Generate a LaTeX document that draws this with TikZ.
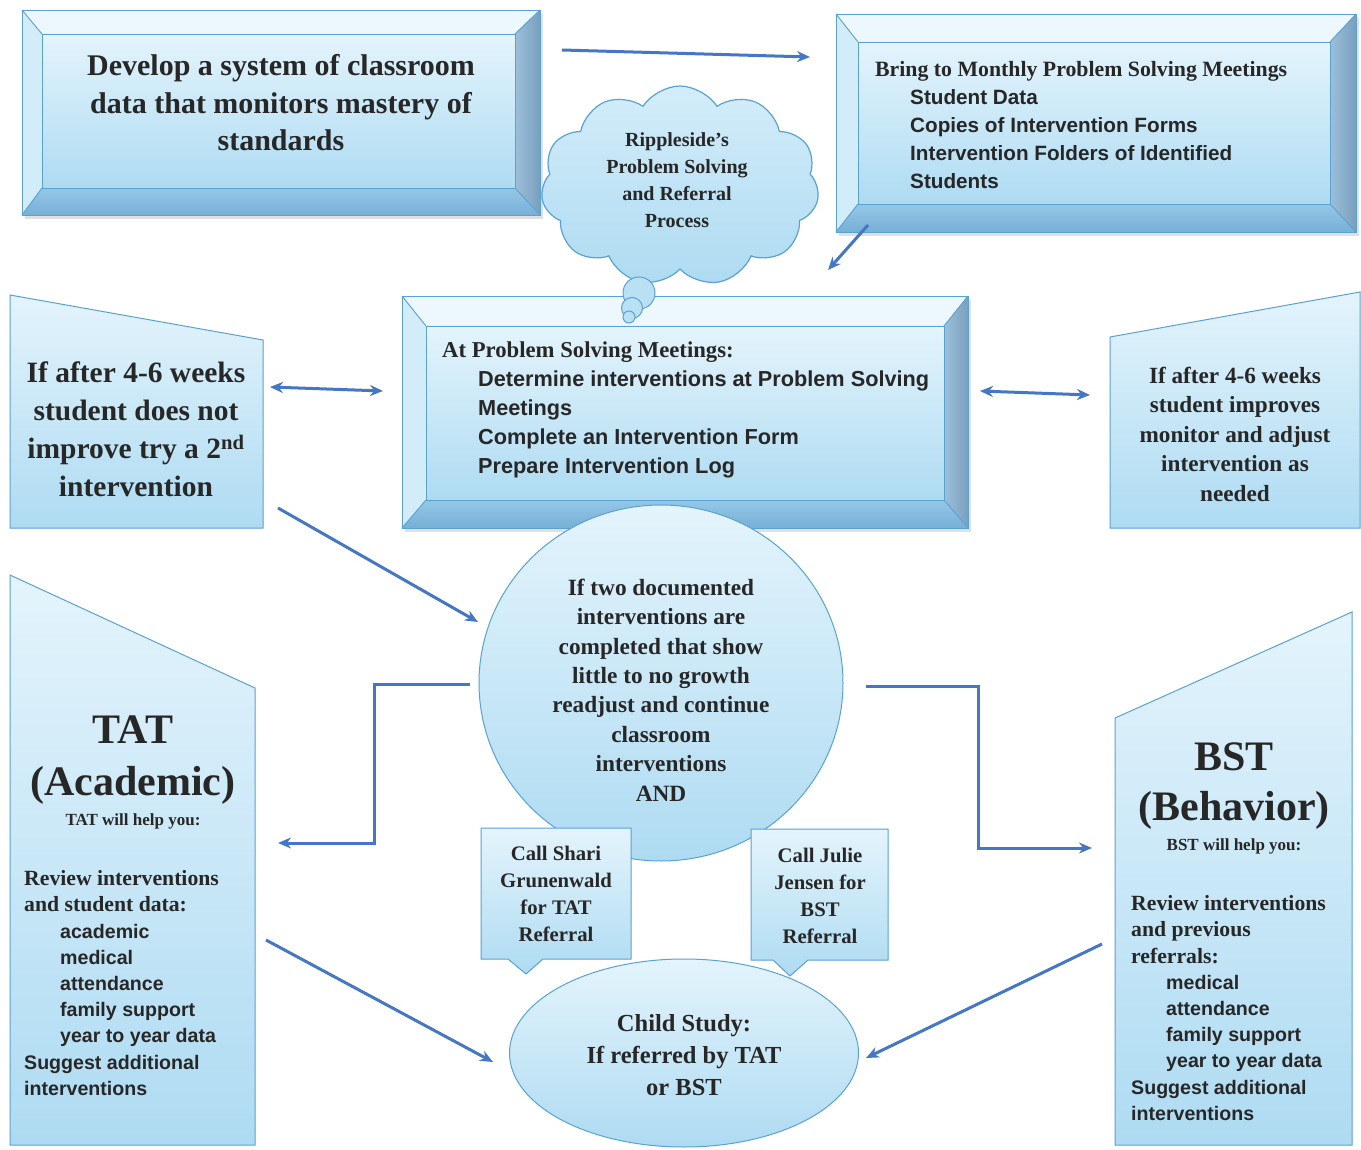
\documentclass[tikz,border=0pt]{standalone}
\usepackage{fontspec}
\setmainfont{Liberation Serif}
\setsansfont{Liberation Sans}
\usetikzlibrary{shapes.symbols,shapes.geometric,calc,arrows.meta,fit}
\definecolor{edge}{HTML}{5AA2D2}
\definecolor{fillA}{HTML}{E4F4FC}
\definecolor{fillB}{HTML}{AEDBF2}
\definecolor{bevTop}{HTML}{EDF8FE}
\definecolor{bevLeft}{HTML}{D2ECFA}
\definecolor{bevRightA}{HTML}{9CC0DA}
\definecolor{bevRightB}{HTML}{7A9FBD}
\definecolor{bevBotA}{HTML}{94C8E8}
\definecolor{bevBotB}{HTML}{78AFD6}
\definecolor{arrowc}{HTML}{4677C5}
\definecolor{txt}{HTML}{272727}
\newcommand{\bevelbox}[9]{%
  \fill[black!12] (#2+3,#3+4) rectangle (#4+3,#5+4);
  \fill[bevTop] (#2,#3) -- (#4,#3) -- (#4-#8,#3+#7) -- (#2+#6,#3+#7) -- cycle;
  \fill[bevLeft] (#2,#3) -- (#2+#6,#3+#7) -- (#2+#6,#5-#9) -- (#2,#5) -- cycle;
  \shade[left color=bevRightA, right color=bevRightB] (#4,#3) -- (#4,#5) -- (#4-#8,#5-#9) -- (#4-#8,#3+#7) -- cycle;
  \shade[top color=bevBotA, bottom color=bevBotB] (#2,#5) -- (#2+#6,#5-#9) -- (#4-#8,#5-#9) -- (#4,#5) -- cycle;
  \shade[top color=fillA, bottom color=fillB] (#2+#6,#3+#7) rectangle (#4-#8,#5-#9);
  \draw[edge, line width=0.9pt] (#2,#3) rectangle (#4,#5);
  \draw[edge, line width=0.9pt] (#2+#6,#3+#7) rectangle (#4-#8,#5-#9);
  \draw[edge, line width=0.9pt] (#2,#3) -- (#2+#6,#3+#7) (#4,#3) -- (#4-#8,#3+#7) (#4,#5) -- (#4-#8,#5-#9) (#2,#5) -- (#2+#6,#5-#9);
  \node[fit={(#2,#3)(#4,#5)}, inner sep=0pt] (#1) {};
}
\tikzset{
  x=1pt, y=-1pt,
  arr/.style={draw=arrowc, line width=3pt, -{Stealth[length=13pt,width=11pt]}},
  darr/.style={draw=arrowc, line width=3pt, {Stealth[length=13pt,width=11pt]}-{Stealth[length=13pt,width=11pt]}},
  panel/.style={draw=edge, line width=1pt, top color=fillA, bottom color=fillB},
  lbl/.style={text=txt, inner sep=0pt},
}
\begin{document}
\begin{tikzpicture}
\useasboundingbox (0,0) rectangle (1361,1150);
\fill[white] (0,0) rectangle (1361,1150);

% ---------- top-left bevel box ----------
\bevelbox{b1}{22}{10}{540}{215}{20}{24}{25}{27}
\node[lbl, align=center, font=\fontsize{30}{37.5}\selectfont\bfseries] (b1t) at (281,103) {Develop a system of classroom\\data that monitors mastery of\\standards};

% ---------- top-right bevel box ----------
\bevelbox{b2}{836}{14}{1356}{232}{22}{28}{26}{28}
\node[lbl, align=left, anchor=west, font=\fontsize{21.8}{27.8}\selectfont] (b2t) at (875,125)
 {\bfseries Bring to Monthly Problem Solving Meetings\\
  \hspace*{35pt}\fontsize{20.7}{27.8}\selectfont\sffamily\bfseries Student Data\\
  \hspace*{35pt}\fontsize{20.7}{27.8}\selectfont\sffamily\bfseries Copies of Intervention Forms\\
  \hspace*{35pt}\fontsize{20.7}{27.8}\selectfont\sffamily\bfseries Intervention Folders of Identified\\
  \hspace*{35pt}\fontsize{20.7}{27.8}\selectfont\sffamily\bfseries Students};

% ---------- middle bevel box ----------
\bevelbox{b3}{402}{296}{968}{528}{24}{30}{24}{28}
\node[lbl, align=left, anchor=west, font=\fontsize{22.7}{29}\selectfont] (b3t) at (442,410)
 {\bfseries At Problem Solving Meetings:\\
  \hspace*{36pt}\fontsize{21.7}{29}\selectfont\sffamily\bfseries Determine interventions at Problem Solving\\
  \hspace*{36pt}\fontsize{21.7}{29}\selectfont\sffamily\bfseries Meetings\\
  \hspace*{36pt}\fontsize{21.7}{29}\selectfont\sffamily\bfseries Complete an Intervention Form\\
  \hspace*{36pt}\fontsize{21.7}{29}\selectfont\sffamily\bfseries Prepare Intervention Log};

% ---------- cloud ----------
\node[cloud, cloud puffs=11, cloud puff arc=115, aspect=1.35, draw=edge, line width=1.2pt,
      top color=fillA!70!fillB, bottom color=fillB, minimum width=278, minimum height=200, inner sep=0pt]
      (cloud) at (680,186) {};
\node[circle, draw=edge, line width=1pt, fill=fillB!85!white, minimum size=32, inner sep=0pt] (bub1) at (639,293) {};
\node[circle, draw=edge, line width=1pt, fill=fillB!85!white, minimum size=21, inner sep=0pt] (bub2) at (632,308) {};
\node[circle, draw=edge, line width=1pt, fill=fillB!85!white, minimum size=12, inner sep=0pt] (bub3) at (629,317) {};
\node[lbl, align=center, font=\fontsize{20}{27}\selectfont\bfseries] (cloudt) at (677,180)
 {Rippleside's\\Problem Solving\\and Referral\\Process};

% ---------- side trapezoids ----------
\path[panel] (10,295) -- (263,340) -- (263,528) -- (10,528) -- cycle;
\node[lbl, align=center, font=\fontsize{29.5}{38}\selectfont\bfseries] (lt) at (136,429)
 {If after 4-6 weeks\\student does not\\improve try a 2\textsuperscript{nd}\\intervention};

\path[panel] (1110,337) -- (1360,292) -- (1360,528) -- (1110,528) -- cycle;
\node[lbl, align=center, font=\fontsize{23.2}{29.5}\selectfont\bfseries] (rt) at (1235,434)
 {If after 4-6 weeks\\student improves\\monitor and adjust\\intervention as\\needed};

% ---------- TAT panel ----------
\path[panel] (10,575) -- (255,688) -- (255,1145) -- (10,1145) -- cycle;
\node[lbl, font=\fontsize{42}{44}\selectfont\bfseries] (tat1) at (133,730) {TAT};
\node[lbl, font=\fontsize{42}{44}\selectfont\bfseries] (tat2) at (133,785) {(Academic)};
\node[lbl, font=\fontsize{17}{18}\selectfont\bfseries] (tat3) at (133,821) {TAT will help you:};
\node[lbl, align=left, anchor=west, font=\fontsize{21.7}{26.2}\selectfont] (tat4) at (24,983)
 {\bfseries Review interventions\\
  \bfseries and student data:\\
  \hspace*{36pt}\fontsize{19.6}{26.2}\selectfont\sffamily\bfseries academic\\
  \hspace*{36pt}\fontsize{19.6}{26.2}\selectfont\sffamily\bfseries medical\\
  \hspace*{36pt}\fontsize{19.6}{26.2}\selectfont\sffamily\bfseries attendance\\
  \hspace*{36pt}\fontsize{19.6}{26.2}\selectfont\sffamily\bfseries family support\\
  \hspace*{36pt}\fontsize{19.6}{26.2}\selectfont\sffamily\bfseries year to year data\\
  \fontsize{19.6}{26.2}\selectfont\sffamily\bfseries Suggest additional\\
  \fontsize{19.6}{26.2}\selectfont\sffamily\bfseries interventions};

% ---------- BST panel ----------
\path[panel] (1115,718) -- (1352,612) -- (1352,1145) -- (1115,1145) -- cycle;
\node[lbl, font=\fontsize{42}{44}\selectfont\bfseries] (bst1) at (1234,757) {BST};
\node[lbl, font=\fontsize{42}{44}\selectfont\bfseries] (bst2) at (1234,810) {(Behavior)};
\node[lbl, font=\fontsize{17}{18}\selectfont\bfseries] (bst3) at (1234,846) {BST will help you:};
\node[lbl, align=left, anchor=west, font=\fontsize{21.7}{26.2}\selectfont] (bst4) at (1131,1008)
 {\bfseries Review interventions\\
  \bfseries and previous\\
  \bfseries referrals:\\
  \hspace*{35pt}\fontsize{19.6}{26.2}\selectfont\sffamily\bfseries medical\\
  \hspace*{35pt}\fontsize{19.6}{26.2}\selectfont\sffamily\bfseries attendance\\
  \hspace*{35pt}\fontsize{19.6}{26.2}\selectfont\sffamily\bfseries family support\\
  \hspace*{35pt}\fontsize{19.6}{26.2}\selectfont\sffamily\bfseries year to year data\\
  \fontsize{19.6}{26.2}\selectfont\sffamily\bfseries Suggest additional\\
  \fontsize{19.6}{26.2}\selectfont\sffamily\bfseries interventions};

% ---------- central circle ----------
\node[ellipse, draw=edge, line width=1pt, top color=fillA, bottom color=fillB,
      minimum width=364, minimum height=356, inner sep=0pt] (circ) at (661,683) {};
\node[lbl, align=center, font=\fontsize{23.3}{29.4}\selectfont\bfseries] (circt) at (661,690)
 {If two documented\\interventions are\\completed that show\\little to no growth\\readjust and continue\\classroom\\interventions\\AND};

% ---------- child study ellipse ----------
\node[ellipse, draw=edge, line width=1pt, top color=fillA, bottom color=fillB,
      minimum width=349, minimum height=188, inner sep=0pt] (child) at (684,1053) {};
\node[lbl, align=center, font=\fontsize{24.5}{32}\selectfont\bfseries] (childt) at (684,1055)
 {Child Study:\\If referred by TAT\\or BST};

% ---------- callouts ----------
\path[panel] (481,828) -- (631,828) -- (631,959) -- (543,959) -- (526,974) -- (508,959) -- (481,959) -- cycle;
\node[lbl, align=center, font=\fontsize{20.7}{27}\selectfont\bfseries] (call1) at (556,894)
 {Call Shari\\Grunenwald\\for TAT\\Referral};
\path[panel] (751,829) -- (888,829) -- (888,960) -- (808,960) -- (790,976) -- (773,960) -- (751,960) -- cycle;
\node[lbl, align=center, font=\fontsize{20.7}{27}\selectfont\bfseries] (call2) at (820,896)
 {Call Julie\\Jensen for\\BST\\Referral};

% ---------- connector end points ----------
\coordinate (a1s) at (562,50);   \coordinate (a1e) at (810,57);
\coordinate (a2s) at (868,225);  \coordinate (a2e) at (828,270);
\coordinate (a3s) at (270,387);  \coordinate (a3e) at (383,391);
\coordinate (a4s) at (980,391);  \coordinate (a4e) at (1090,395);
\coordinate (a5s) at (278,508);  \coordinate (a5e) at (478,622);
\coordinate (a6s) at (470,684);  \coordinate (a6e) at (278,843);
\coordinate (a7s) at (866,686);  \coordinate (a7e) at (1092,848);
\coordinate (a8s) at (266,940);  \coordinate (a8e) at (493,1062);
\coordinate (a9s) at (1102,944); \coordinate (a9e) at (866,1058);

% ---------- connectors ----------
\draw[arr] (a1s) -- (a1e);
\draw[arr] (a2s) -- (a2e);
\draw[darr] (a3s) -- (a3e);
\draw[darr] (a4s) -- (a4e);
\draw[arr] (a5s) -- (a5e);
\draw[arr] (a6s) -- (374,684) -- (374,843) -- (a6e);
\draw[arr] (a7s) -- (978,686) -- (978,848) -- (a7e);
\draw[arr] (a8s) -- (a8e);
\draw[arr] (a9s) -- (a9e);
\end{tikzpicture}
\end{document}
